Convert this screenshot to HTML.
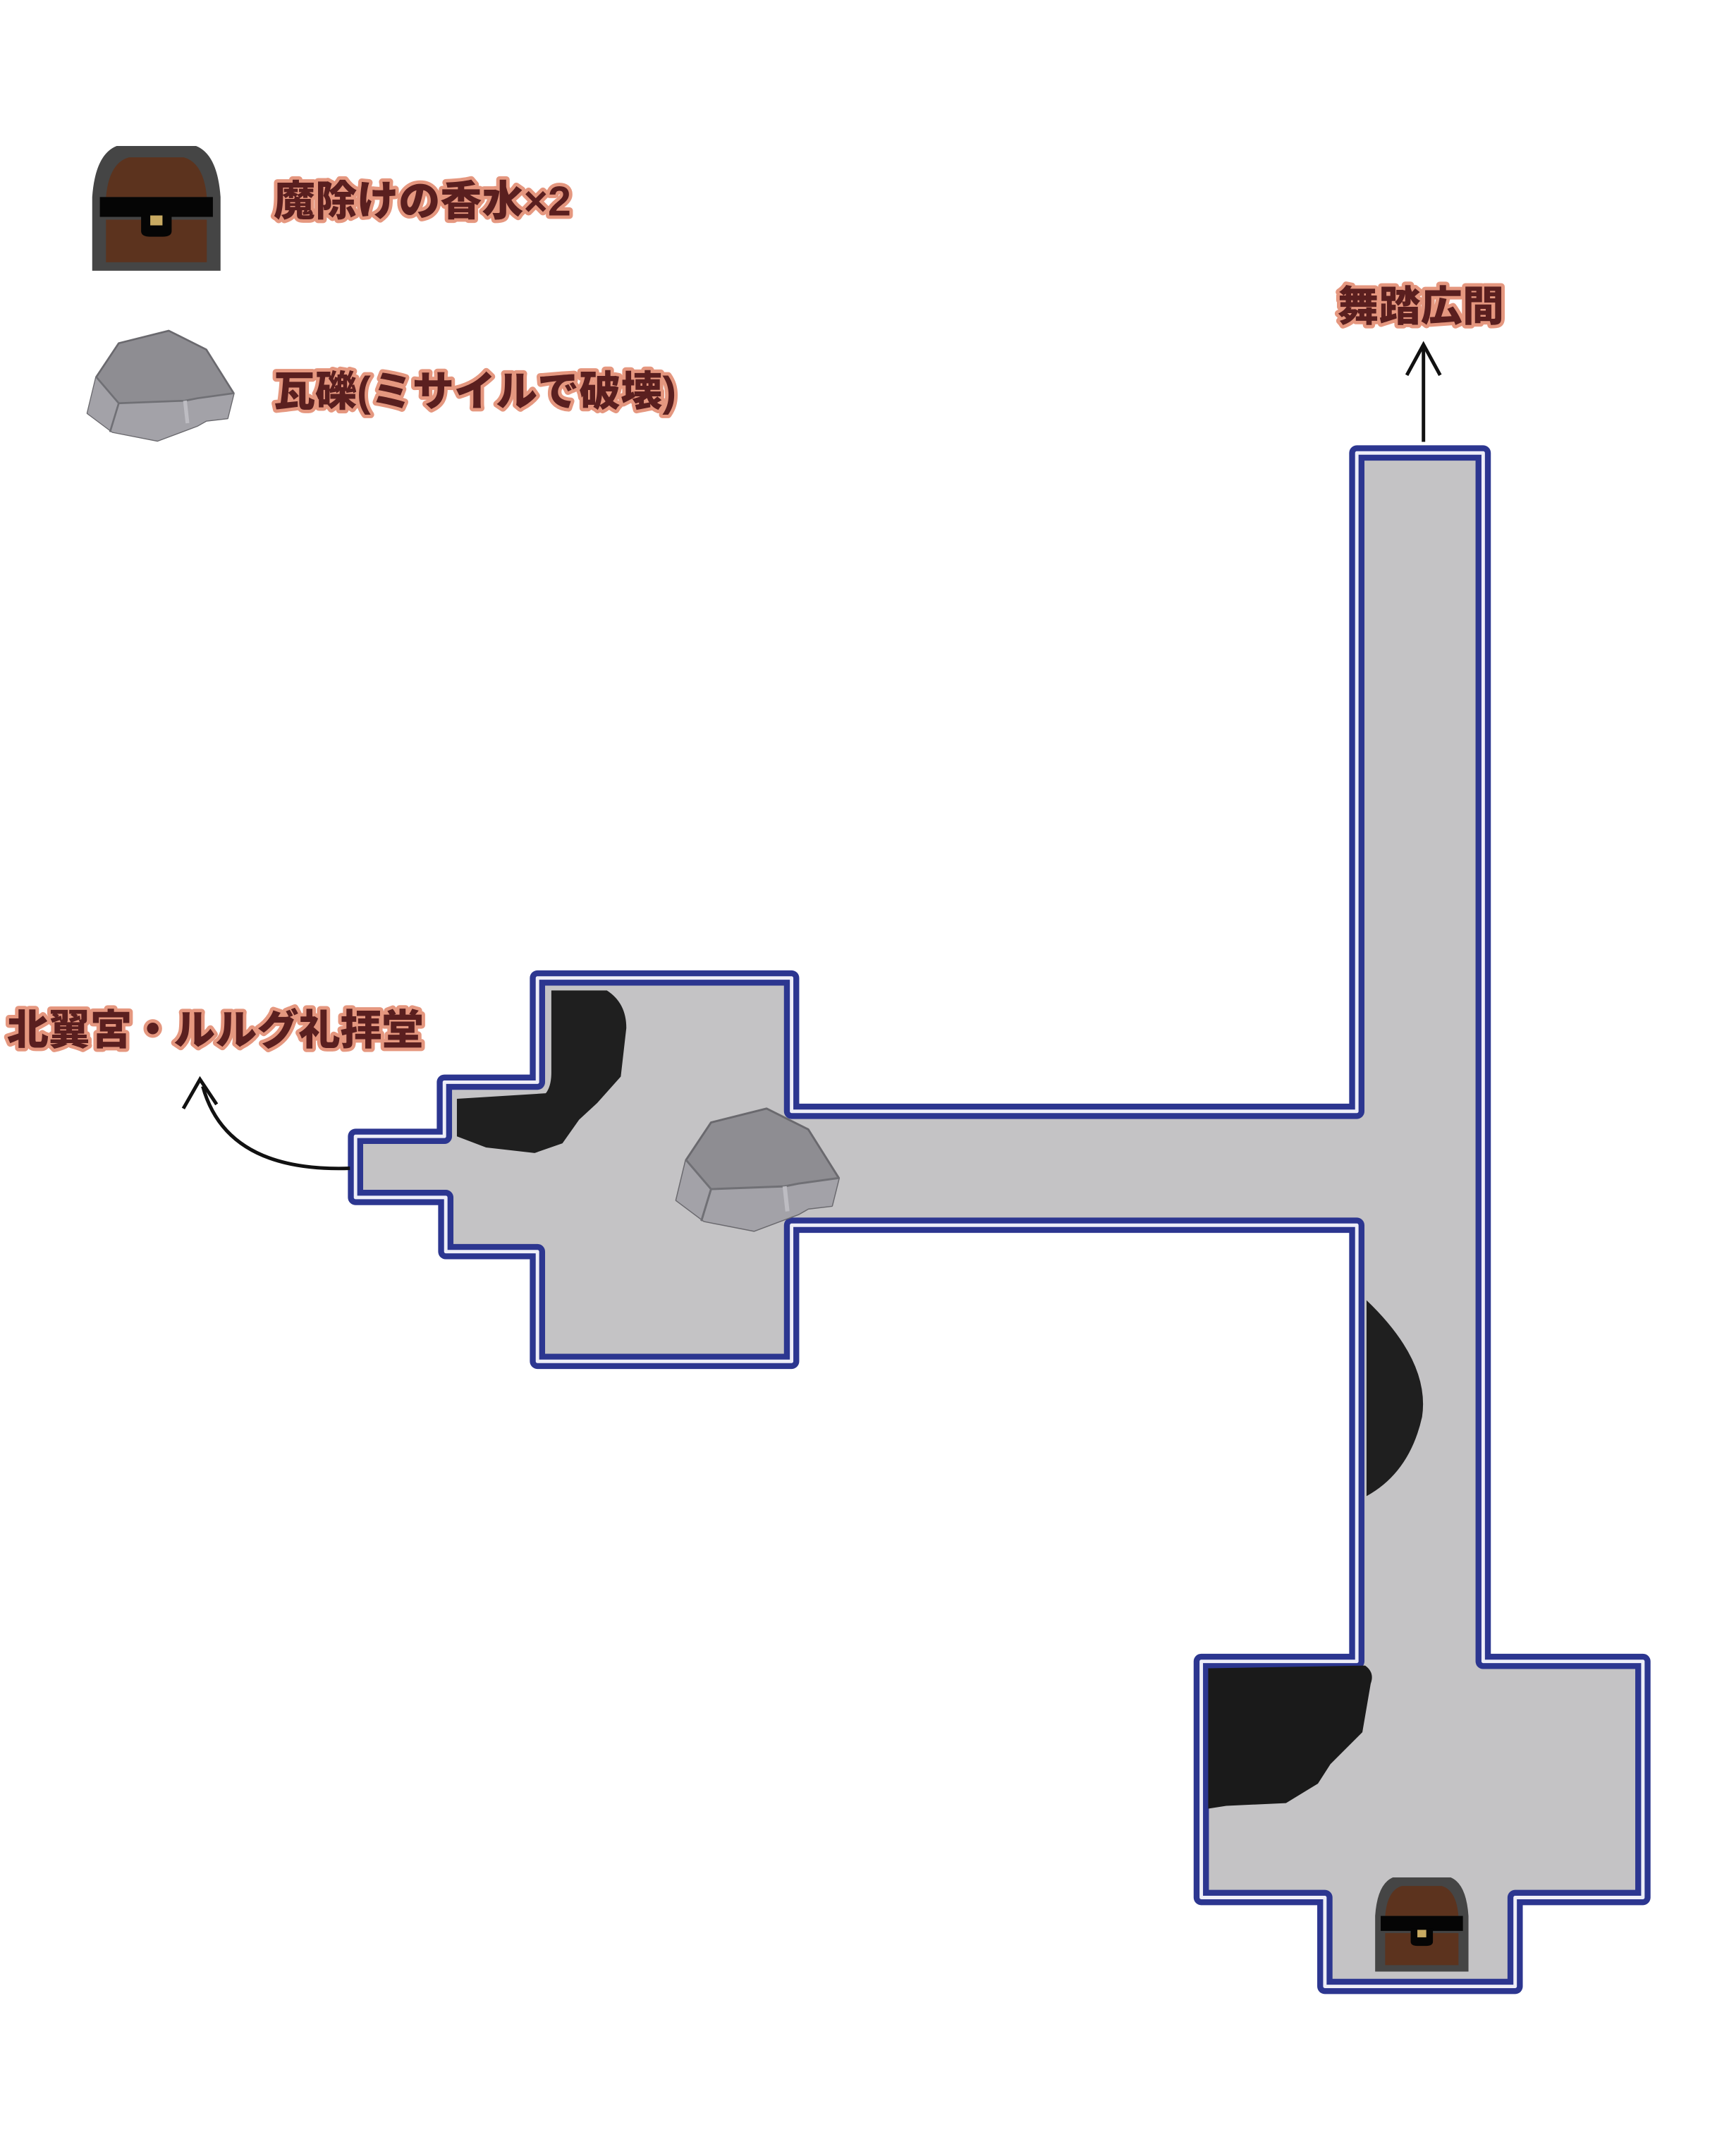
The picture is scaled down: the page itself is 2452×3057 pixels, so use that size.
<!DOCTYPE html>
<html><head><meta charset="utf-8"><style>
html,body{margin:0;padding:0;background:#fff;}
svg{display:block;}
.lbl{font-family:"Liberation Sans","Noto Sans CJK JP",sans-serif;font-weight:900;font-size:30px;fill:#5a1f1f;stroke:#e5977f;stroke-width:5px;paint-order:stroke;stroke-linejoin:round;}
</style></head><body>
<svg width="2452" height="3057" viewBox="0 0 1245 1552" xmlns="http://www.w3.org/2000/svg">
<defs>
<g id="chest">
<path d="M4,90 V38 Q6,8 20,2 H72 Q86,8 88,38 V90 Z" fill="#454545"/>
<path d="M13,38 Q15,14 28,10 H64 Q77,14 79,38 Z" fill="#5c331e"/>
<rect x="13" y="54" width="66" height="30" fill="#5c331e"/>
<rect x="9" y="38" width="74" height="14" fill="#050505"/>
<path d="M36,50 H56 V62 Q56,66 50,66 H42 Q36,66 36,62 Z" fill="#050505"/>
<rect x="42" y="51" width="8" height="7" fill="#c8aa62"/>
</g>
<g id="rock">
<path d="M25,10 L65,0 L95,15 L117,50 L112,70 L95,72 L88,76 L56,88 L20,81 L0,66 L7,37 Z" fill="#8e8d92" stroke="#6a696e" stroke-width="1.5" stroke-linejoin="round"/>
<path d="M7,37 L25,58 L78,56 L88,54 L117,50 L112,70 L95,72 L88,76 L56,88 L20,81 L0,66 Z" fill="#a3a2a8"/>
<path d="M7,37 L25,58 L78,56 L88,54 L117,50" fill="none" stroke="#707075" stroke-width="1.5"/>
<path d="M25,58 L18,81" stroke="#707075" stroke-width="1.5"/>
<path d="M78,56 L80,74" stroke="#bdbcc2" stroke-width="3"/>
</g>
</defs>

<use href="#chest" transform="translate(62,103) scale(1.1,1.02)"/>
<text class="lbl" x="197" y="155">魔除けの香水×2</text>
<use href="#rock" transform="translate(63,238) scale(0.9)"/>
<text class="lbl" x="197" y="292">瓦礫(ミサイルで破壊)</text>

<text class="lbl" x="963" y="231">舞踏広間</text>
<text class="lbl" x="5" y="752">北翼宮・ルルグ礼拝堂</text>

<path d="M256,818 H320 V779 H387 V704 H570 V800 H977 V326 H1068 V1196 H1183 V1366 H1091 V1430 H954 V1366 H865 V1196 H977 V882 H570 V980 H387 V901 H321 V862 H256 Z" fill="#c4c3c5" stroke="#2c3690" stroke-width="11" stroke-linejoin="round"/>
<path d="M256,818 H320 V779 H387 V704 H570 V800 H977 V326 H1068 V1196 H1183 V1366 H1091 V1430 H954 V1366 H865 V1196 H977 V882 H570 V980 H387 V901 H321 V862 H256 Z" fill="none" stroke="#eeeef8" stroke-width="2.5" stroke-linejoin="round"/>

<path d="M397,713 L437,713 Q451,722 451,740 L447,775 L430,794 L417,806 L405,823 L385,830 L350,826 L329,818 L329,791 L393,787 Q397,782 397,772 Z" fill="#1f1f1f"/>
<path d="M984,936 Q1030,980 1024,1020 Q1015,1060 984,1077 Z" fill="#1f1f1f"/>
<path d="M870,1201 L983,1199 Q990,1204 987,1212 L981,1247 L958,1270 L949,1284 L926,1298 L883,1300 L870,1302 Z" fill="#1a1a1a"/>

<use href="#rock" transform="translate(487,798)"/>
<use href="#chest" transform="translate(987,1350) scale(0.8,0.77)"/>

<path d="M1025,318 V248" stroke="#111" stroke-width="2.5" fill="none"/>
<path d="M1013,270 L1025,248 L1037,270" stroke="#111" stroke-width="2.5" fill="none"/>
<path d="M252,841 Q163,844 146,782" stroke="#111" stroke-width="2.5" fill="none"/>
<path d="M132,798 L144,777 L156,795" stroke="#111" stroke-width="2.5" fill="none"/>
</svg>
</body></html>
